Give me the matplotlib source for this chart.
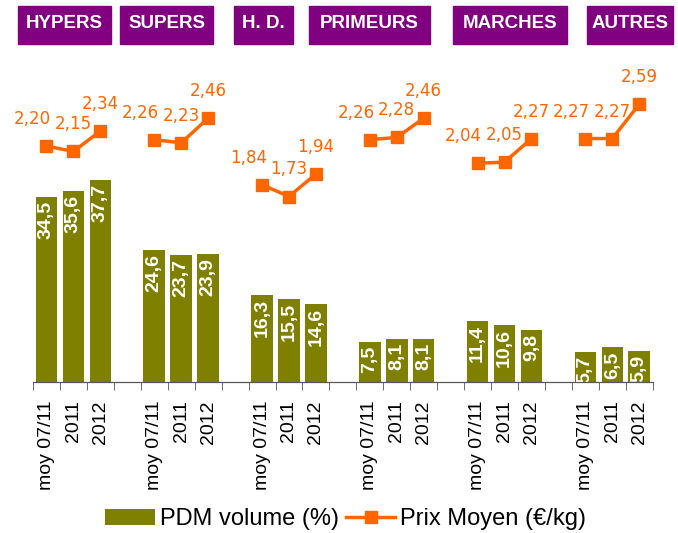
import matplotlib.pyplot as plt
import numpy as np

plt.rcParams['font.family'] = ['Liberation Sans', 'DejaVu Sans']

circuits = ["HYPERS", "SUPERS", "H. D.", "PRIMEURS", "MARCHES", "AUTRES"]
periodes = ["moy 07/11", "2011", "2012"]
pdm_volume = [[34.5, 35.6, 37.7],
              [24.6, 23.7, 23.9],
              [16.3, 15.5, 14.6],
              [7.5, 8.1, 8.1],
              [11.4, 10.6, 9.8],
              [5.7, 6.5, 5.9]]
prix_moyen = [[2.20, 2.15, 2.34],
              [2.26, 2.23, 2.46],
              [1.84, 1.73, 1.94],
              [2.26, 2.28, 2.46],
              [2.04, 2.05, 2.27],
              [2.27, 2.27, 2.59]]

olive = '#808000'
orange = '#FF6600'
purple = '#800080'

fig = plt.figure(figsize=(6.78, 5.33), dpi=100)
ax = fig.add_axes([0.0487, 0.283, 0.914, 0.604])
ax2 = ax.twinx()

xs_all = []
labels_all = []
for g in range(len(circuits)):
    xs = np.arange(3) + 4 * g
    ax.bar(xs, pdm_volume[g], width=0.8, color=olive,
           label='PDM volume (%)' if g == 0 else None)
    for x, v in zip(xs, pdm_volume[g]):
        ax.annotate(f"{v:.1f}".replace('.', ','), (x, v), xytext=(0, -3),
                    textcoords='offset points', rotation=90, ha='center',
                    va='top', color='white', fontsize=14, fontweight='bold')
    ax2.plot(xs, prix_moyen[g], color=orange, lw=2.5, marker='s', ms=8,
             label='Prix Moyen (€/kg)' if g == 0 else None)
    for j, (x, p) in enumerate(zip(xs, prix_moyen[g])):
        dx = -10 if j == 0 else 0
        ax2.annotate(f"{p:.2f}".replace('.', ','), (x, p), xytext=(dx, 13),
                     textcoords='offset points', ha='center', va='bottom',
                     color=orange, fontsize=12, family='DejaVu Sans')
    xs_all.extend(xs)
    labels_all.extend(periodes)

ax.set_xlim(-0.5, 22.5)
ax.set_ylim(0, 60)
ax2.set_ylim(0, 3.0)
ax.set_xticks(xs_all)
ax.set_xticklabels(labels_all, rotation=90, fontsize=14)
ax.set_xticks(np.arange(-0.5, 23, 1), minor=True)
ax.tick_params(axis='x', which='major', length=0, pad=13)
ax.tick_params(axis='x', which='minor', length=6, color='#555555', direction='out')
ax.set_yticks([])
ax2.set_yticks([])
for a in (ax, ax2):
    for s in ('left', 'right', 'top'):
        a.spines[s].set_visible(False)
    a.spines['bottom'].set_color('#555555')

# bandeaux des circuits
boxes = [(18, 111), (120, 213), (234, 293), (309, 430), (453, 567), (587, 673)]
W, H = 678, 533
for name, (x0, x1) in zip(circuits, boxes):
    rect = plt.Rectangle((x0 / W, 1 - 44 / H), (x1 - x0) / W, 38 / H,
                         transform=fig.transFigure, color=purple)
    fig.patches.append(rect)
    fig.text((x0 + x1) / 2 / W, 1 - 24 / H, name, ha='center', va='center',
             color='white', fontsize=13.5, fontweight='bold')

h1, l1 = ax.get_legend_handles_labels()
h2, l2 = ax2.get_legend_handles_labels()
fig.legend(h1 + h2, l1 + l2, loc='center', bbox_to_anchor=(0.51, 0.026),
           ncol=2, frameon=False, fontsize=17, handlelength=2.1,
           handletextpad=0.2, columnspacing=0.3)

fig.savefig('out.png', dpi=100)
